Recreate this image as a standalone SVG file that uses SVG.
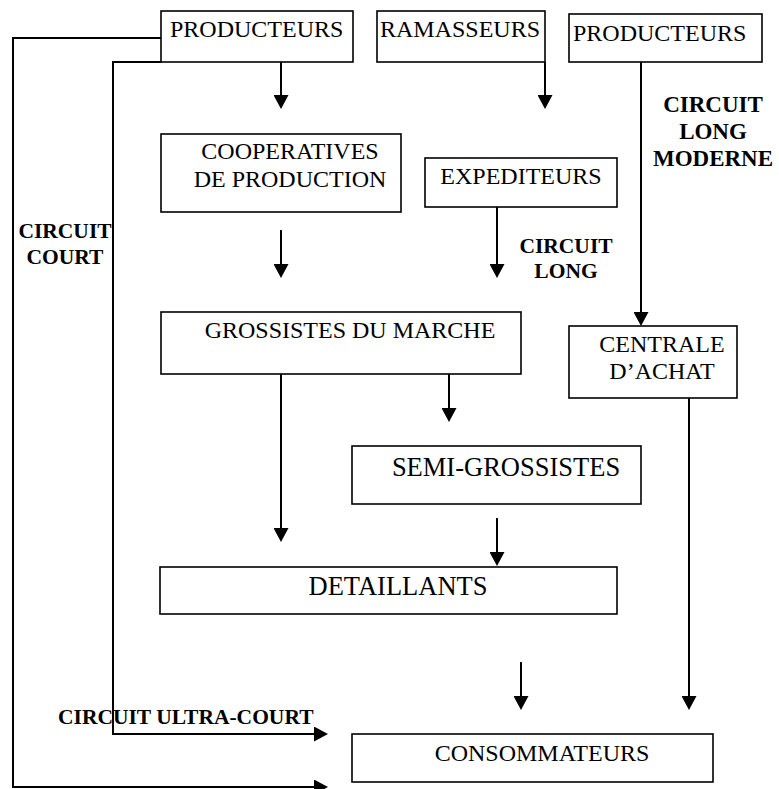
<svg xmlns="http://www.w3.org/2000/svg" width="779" height="789" viewBox="0 0 779 789">
<style>
.box{fill:#fff;stroke:#000;stroke-width:1.6}
.t{font-family:"Liberation Serif","Times New Roman",serif;font-size:24px;fill:#000}
.tb{font-family:"Liberation Serif","Times New Roman",serif;font-size:21.5px;font-weight:bold;fill:#000}
.c{fill:none;stroke:#000;stroke-width:2}
.m{text-anchor:middle}
</style>
<defs>
<marker id="ah" viewBox="0 0 14 15" refX="0" refY="7.5" markerWidth="14" markerHeight="15" markerUnits="userSpaceOnUse" orient="auto">
<path d="M0,0 L14,7.5 L0,15 z" fill="#000"/>
</marker>
</defs>
<rect width="779" height="789" fill="#fff"/>
<g id="connectors">
<polyline class="c" points="161,38 13,38 13,787 314,787" marker-end="url(#ah)"/>
<polyline class="c" points="161,62 113,62 113,734 314,734" marker-end="url(#ah)"/>
<line class="c" x1="281" y1="62" x2="281" y2="95" marker-end="url(#ah)"/>
<line class="c" x1="545" y1="62" x2="545" y2="95" marker-end="url(#ah)"/>
<line class="c" x1="641" y1="62" x2="641" y2="312" marker-end="url(#ah)"/>
<line class="c" x1="281" y1="230" x2="281" y2="264" marker-end="url(#ah)"/>
<line class="c" x1="497" y1="207" x2="497" y2="264" marker-end="url(#ah)"/>
<line class="c" x1="281" y1="374" x2="281" y2="528" marker-end="url(#ah)"/>
<line class="c" x1="449" y1="374" x2="449" y2="408" marker-end="url(#ah)"/>
<line class="c" x1="497" y1="518" x2="497" y2="552" marker-end="url(#ah)"/>
<line class="c" x1="521" y1="662" x2="521" y2="696" marker-end="url(#ah)"/>
<line class="c" x1="689" y1="398" x2="689" y2="696" marker-end="url(#ah)"/>
</g>
<g id="producteurs1"><rect class="box" x="161" y="11" width="192" height="51"/><text class="t" x="170" y="37">PRODUCTEURS</text></g>
<g id="ramasseurs"><rect class="box" x="377" y="11" width="168" height="51"/><text class="t" x="380" y="37">RAMASSEURS</text></g>
<g id="producteurs2"><rect class="box" x="569" y="14" width="193" height="48"/><text class="t" x="573" y="41">PRODUCTEURS</text></g>
<g id="cooperatives"><rect class="box" x="161" y="134" width="240" height="78"/><text class="t m" x="290" y="159">COOPERATIVES</text><text class="t m" x="290" y="187">DE PRODUCTION</text></g>
<g id="expediteurs"><rect class="box" x="425" y="158" width="192" height="49"/><text class="t m" x="521" y="184">EXPEDITEURS</text></g>
<g id="grossistes"><rect class="box" x="161" y="312" width="360" height="62"/><text class="t m" x="350" y="338">GROSSISTES DU MARCHE</text></g>
<g id="centrale"><rect class="box" x="569" y="326" width="168" height="72"/><text class="t m" x="662" y="352">CENTRALE</text><text class="t m" x="662" y="379">D’ACHAT</text></g>
<g id="semi-grossistes"><rect class="box" x="352" y="446" width="289" height="58"/><text class="t m" x="506" y="475.5" style="font-size:26.5px">SEMI-GROSSISTES</text></g>
<g id="detaillants"><rect class="box" x="160" y="567" width="457" height="47"/><text class="t m" x="398" y="595" style="font-size:26.5px">DETAILLANTS</text></g>
<g id="consommateurs"><rect class="box" x="352" y="734" width="361" height="48"/><text class="t m" x="542" y="761">CONSOMMATEURS</text></g>
<g id="labels">
<text class="tb m" x="65" y="238">CIRCUIT</text>
<text class="tb m" x="65" y="264">COURT</text>
<text class="tb m" x="566" y="253">CIRCUIT</text>
<text class="tb m" x="566" y="278">LONG</text>
<text class="tb m" x="713" y="112" style="font-size:23px">CIRCUIT</text>
<text class="tb m" x="713" y="139" style="font-size:23px">LONG</text>
<text class="tb m" x="713" y="166" style="font-size:23px">MODERNE</text>
<text class="tb" x="58" y="724">CIRCUIT ULTRA-COURT</text>
</g>
</svg>
